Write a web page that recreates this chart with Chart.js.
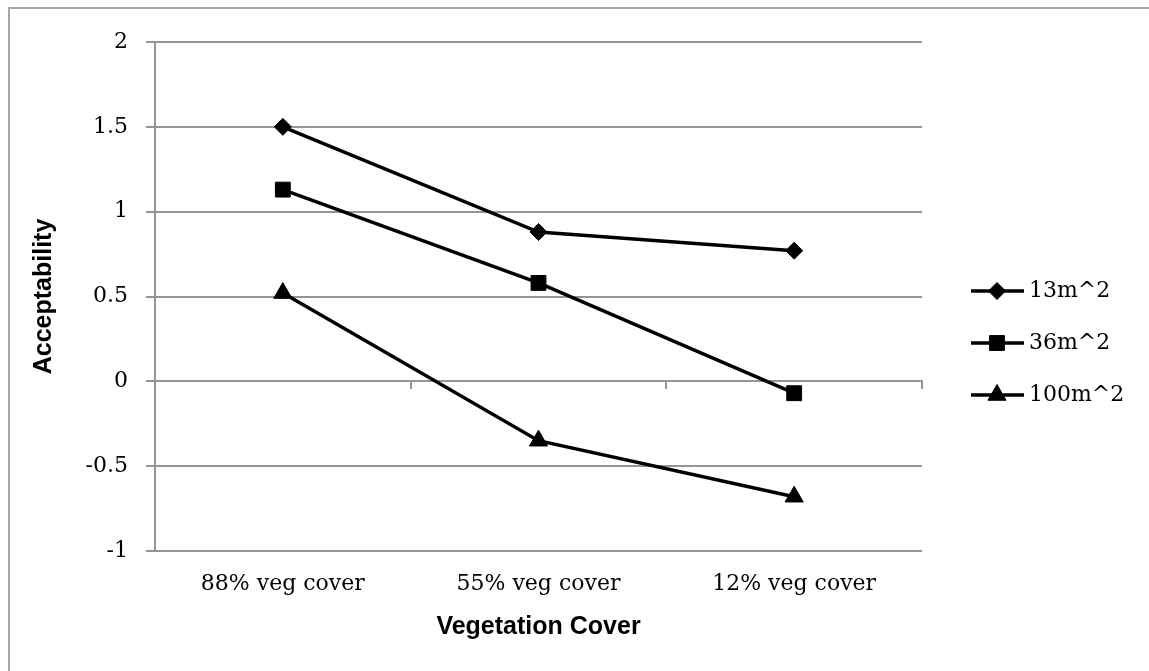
<!DOCTYPE html>
<html>
<head>
<meta charset="utf-8">
<script src="https://cdn.jsdelivr.net/npm/chart.js@4.4.1/dist/chart.umd.min.js"></script>
<style>
    html, body { margin: 0; padding: 0; background: #fff; overflow: hidden; }
    #wrap { position: relative; width: 1149px; height: 671px; }
</style>
</head>
<body>
<div id="wrap">
    <canvas id="js-veg-chart"></canvas>
</div>
<script>
// Chart data
const categories = ["88% veg cover", "55% veg cover", "12% veg cover"];
const seriesNames = ["13m^2", "36m^2", "100m^2"];
const area13 = [1.5, 0.88, 0.77];
const area36 = [1.13, 0.58, -0.07];
const area100 = [0.52, -0.35, -0.68];
const yMin = -1;
const yMax = 2;
const yStep = 0.5;

const gridColor = "#959595";
const serifFont = "'DejaVu Serif', 'Liberation Serif', serif";
const sansFont = "'Liberation Sans', Arial, sans-serif";

// Outer frame of the chart object (top and left edges only are visible)
const outerFrame = {
    id: "outerFrame",
    beforeDraw(chart) {
        const ctx = chart.ctx;
        ctx.save();
        ctx.strokeStyle = "#a6a6a6";
        ctx.lineWidth = 2;
        ctx.beginPath();
        ctx.moveTo(9, chart.height + 5);
        ctx.lineTo(9, 8);
        ctx.lineTo(chart.width + 5, 8);
        ctx.stroke();
        ctx.restore();
    },
};

// Legend drawn as line + marker, like the spreadsheet legend
const lineLegend = {
    id: "lineLegend",
    afterDraw(chart) {
        const ctx = chart.ctx;
        chart.data.datasets.forEach((ds, i) => {
            const y = 291 + i * 52;
            ctx.save();
            ctx.strokeStyle = ds.borderColor;
            ctx.lineWidth = ds.borderWidth;
            ctx.beginPath();
            ctx.moveTo(971, y);
            ctx.lineTo(1024, y);
            ctx.stroke();
            ctx.fillStyle = ds.pointBackgroundColor;
            ctx.strokeStyle = ds.pointBorderColor;
            ctx.lineWidth = ds.pointBorderWidth;
            Chart.helpers.drawPoint(ctx, {
                pointStyle: ds.pointStyle,
                radius: ds.pointRadius,
                rotation: 0,
                borderWidth: ds.pointBorderWidth,
            }, 997, y);
            ctx.fillStyle = "#000";
            ctx.font = "22px " + serifFont;
            ctx.textAlign = "left";
            ctx.textBaseline = "middle";
            ctx.fillText(ds.label, 1029, y);
            ctx.restore();
        });
    },
};

function makeSeries(label, values, style, radius) {
    return {
        label: label,
        data: values,
        borderColor: "#000",
        borderWidth: 3.5,
        pointStyle: style,
        pointRadius: radius,
        pointHoverRadius: radius,
        pointBackgroundColor: "#000",
        pointBorderColor: "#000",
        pointBorderWidth: 1,
        tension: 0,
        xAxisID: "x",
        yAxisID: "y",
    };
}

new Chart(document.getElementById("js-veg-chart"), {
    type: "line",
    data: {
        labels: categories,
        datasets: [
            makeSeries(seriesNames[0], area13, "rectRot", 8.5),
            makeSeries(seriesNames[1], area36, "rect", 10.5),
            makeSeries(seriesNames[2], area100, "triangle", 10.5),
        ],
    },
    options: {
        responsive: true,
        maintainAspectRatio: false,
        animation: false,
        events: [],
        layout: {
            padding: { left: 0, top: 42, right: 227, bottom: 0 },
        },
        plugins: {
            legend: { display: false },
            tooltip: { enabled: false },
        },
        scales: {
            x: {
                type: "category",
                position: "bottom",
                offset: true,
                grid: { display: false, drawTicks: false },
                border: { display: false },
                ticks: {
                    color: "#000",
                    padding: 20,
                    font: { family: serifFont, size: 22 },
                    maxRotation: 0,
                },
                title: {
                    display: true,
                    text: "Vegetation Cover",
                    color: "#000",
                    font: { family: sansFont, size: 25, weight: "bold" },
                    padding: { top: 0, bottom: 29 },
                },
                afterFit(scale) {
                    scale.height = 120;
                },
            },
            // axis line at zero with tick marks between categories
            x2: {
                type: "category",
                position: { y: 0 },
                offset: true,
                grid: {
                    offset: true,
                    drawOnChartArea: false,
                    drawTicks: true,
                    tickLength: 7,
                    color: gridColor,
                    lineWidth: 2,
                },
                border: { display: true, color: gridColor, width: 2 },
                ticks: { display: false },
            },
            y: {
                min: yMin,
                max: yMax,
                ticks: {
                    stepSize: yStep,
                    color: "#000",
                    padding: 18,
                    font: { family: serifFont, size: 22 },
                    callback: (value) => String(value),
                },
                grid: {
                    color: gridColor,
                    lineWidth: 2,
                    tickLength: 9,
                },
                border: { display: true, color: gridColor, width: 2 },
                title: {
                    display: true,
                    text: "Acceptability",
                    color: "#000",
                    font: { family: sansFont, size: 25, weight: "bold" },
                    padding: { top: 29, bottom: 0 },
                },
                afterFit(scale) {
                    scale.width = 155;
                },
            },
        },
    },
    plugins: [outerFrame, lineLegend],
});
</script>
</body>
</html>
